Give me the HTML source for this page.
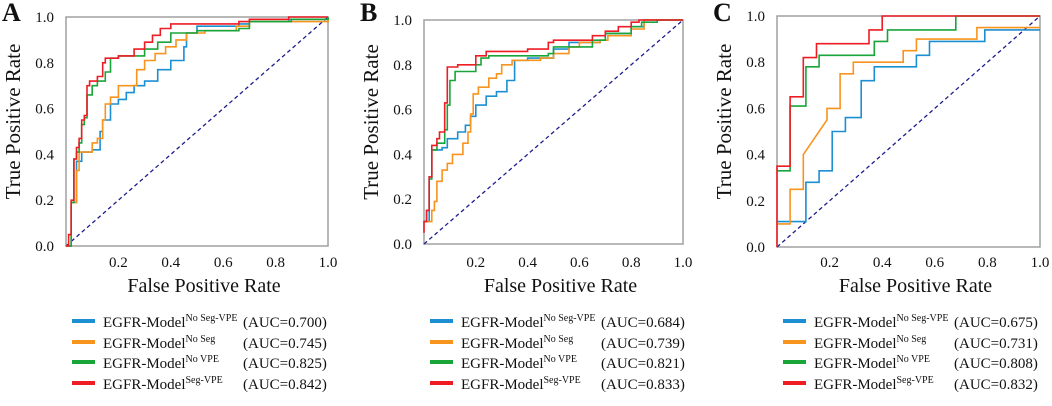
<!DOCTYPE html>
<html><head><meta charset="utf-8"><style>
body{margin:0;background:#fff;width:1052px;height:401px;overflow:hidden}
svg text{font-family:"Liberation Serif",serif;fill:#111}
</style></head><body>
<svg id="chart" width="1052" height="401" viewBox="0 0 1052 401"></svg>
<script>
const seriesNames=["No Seg-VPE","No Seg","No VPE","Seg-VPE"];
const seriesColors=["#1b8fd2","#f7941d","#1aa53a","#ee1c25"];
const xTicks=[0.2,0.4,0.6,0.8,1.0];
const yTicks=[0,0.2,0.4,0.6,0.8,1.0];
const panelLabels=["A","B","C"];
const aucA=["0.700","0.745","0.825","0.842"];
const aucB=["0.684","0.739","0.821","0.833"];
const aucC=["0.675","0.731","0.808","0.832"];
const aBlue=[[0,0],[0.02,0.19],[0.04,0.37],[0.06,0.41],[0.1,0.42],[0.13,0.5],[0.14,0.55],[0.17,0.62],[0.2,0.64],[0.23,0.67],[0.26,0.7],[0.3,0.72],[0.35,0.77],[0.4,0.81],[0.45,0.87],[0.46,0.93],[0.5,0.96],[0.66,0.97],[0.7,0.98],[0.85,0.99],[1,1]];
const aOrange=[[0,0],[0.02,0.19],[0.04,0.33],[0.05,0.41],[0.08,0.41],[0.1,0.45],[0.12,0.47],[0.14,0.55],[0.15,0.62],[0.17,0.65],[0.2,0.7],[0.26,0.7],[0.27,0.77],[0.3,0.81],[0.34,0.84],[0.38,0.87],[0.42,0.9],[0.46,0.93],[0.53,0.94],[0.65,0.96],[0.7,0.98],[1,1]];
const aGreen=[[0,0],[0.02,0.19],[0.03,0.38],[0.04,0.41],[0.05,0.45],[0.06,0.53],[0.07,0.56],[0.08,0.66],[0.1,0.7],[0.12,0.72],[0.15,0.76],[0.17,0.82],[0.2,0.83],[0.3,0.86],[0.35,0.89],[0.4,0.93],[0.5,0.94],[0.66,0.95],[0.7,0.98],[0.86,0.99],[1,1]];
const aRed=[[0,0],[0.01,0.05],[0.02,0.2],[0.03,0.38],[0.04,0.43],[0.05,0.47],[0.06,0.55],[0.07,0.57],[0.08,0.7],[0.09,0.72],[0.12,0.74],[0.14,0.8],[0.15,0.82],[0.2,0.83],[0.26,0.86],[0.3,0.89],[0.33,0.92],[0.36,0.95],[0.4,0.97],[0.66,0.98],[0.7,0.99],[0.85,1],[1,1]];
const bBlue=[[0,0.1],[0.02,0.3],[0.03,0.42],[0.07,0.43],[0.09,0.47],[0.13,0.5],[0.16,0.53],[0.18,0.57],[0.2,0.62],[0.24,0.66],[0.28,0.68],[0.32,0.73],[0.35,0.82],[0.4,0.83],[0.5,0.87],[0.56,0.9],[0.68,0.91],[0.7,0.94],[0.8,0.97],[0.85,1],[1,1]];
const bOrange=[[0,0.1],[0.02,0.1],[0.03,0.15],[0.04,0.19],[0.05,0.28],[0.07,0.33],[0.09,0.36],[0.11,0.4],[0.15,0.45],[0.17,0.5],[0.18,0.58],[0.19,0.67],[0.21,0.7],[0.25,0.74],[0.28,0.76],[0.3,0.8],[0.34,0.82],[0.45,0.83],[0.5,0.85],[0.56,0.88],[0.6,0.9],[0.68,0.91],[0.71,0.93],[0.8,0.96],[0.85,1],[1,1]];
const bGreen=[[0,0.1],[0.01,0.15],[0.02,0.29],[0.03,0.42],[0.05,0.45],[0.08,0.51],[0.09,0.62],[0.1,0.73],[0.12,0.77],[0.2,0.8],[0.22,0.83],[0.25,0.84],[0.48,0.85],[0.5,0.88],[0.65,0.91],[0.7,0.94],[0.8,0.97],[0.84,0.99],[0.9,1],[1,1]];
const bRed=[[0,0.05],[0,0.1],[0.01,0.15],[0.02,0.3],[0.03,0.44],[0.05,0.47],[0.06,0.5],[0.08,0.63],[0.09,0.79],[0.13,0.8],[0.2,0.84],[0.24,0.86],[0.4,0.87],[0.48,0.9],[0.5,0.91],[0.65,0.93],[0.7,0.95],[0.75,0.97],[0.8,0.99],[0.83,1],[1,1]];
const cBlue=[[0,0.11],[0.11,0.11],[0.11,0.28],[0.16,0.28],[0.16,0.33],[0.21,0.33],[0.21,0.5],[0.26,0.5],[0.26,0.56],[0.32,0.56],[0.32,0.72],[0.37,0.72],[0.37,0.78],[0.53,0.78],[0.53,0.83],[0.58,0.83],[0.58,0.89],[0.79,0.89],[0.79,0.94],[1,0.94]];
const cOrange=[[0,0.1],[0.05,0.1],[0.05,0.25],[0.1,0.25],[0.1,0.4],[0.19,0.55],[0.19,0.6],[0.24,0.6],[0.24,0.75],[0.29,0.75],[0.29,0.8],[0.48,0.8],[0.48,0.85],[0.53,0.85],[0.53,0.9],[0.76,0.9],[0.76,0.95],[1,0.95]];
const cGreen=[[0,0.33],[0.05,0.33],[0.05,0.61],[0.11,0.61],[0.11,0.78],[0.16,0.78],[0.16,0.83],[0.37,0.83],[0.37,0.89],[0.42,0.89],[0.42,0.94],[0.68,0.94],[0.68,1],[1,1]];
const cRed=[[0,0],[0,0.35],[0.05,0.35],[0.05,0.65],[0.1,0.65],[0.1,0.82],[0.15,0.82],[0.15,0.88],[0.35,0.88],[0.35,0.94],[0.4,0.94],[0.4,1],[1,1]];

const NS="http://www.w3.org/2000/svg";
const svg=document.getElementById('chart');
function mk(tag,attrs,parent,text){const e=document.createElementNS(NS,tag);for(const k in attrs)e.setAttribute(k,attrs[k]);if(text!==undefined)e.textContent=text;(parent||svg).appendChild(e);return e;}
function stepify(pts){const o=[pts[0]];for(let i=1;i<pts.length;i++){o.push([pts[i][0],pts[i-1][1]]);o.push(pts[i]);}return o;}
const panels=[
 {x0:66,x1:328,y0:246,y1:17,off:0,auc:aucA,data:[aBlue,aOrange,aGreen,aRed],step:true},
 {x0:424,x1:683,y0:244,y1:20,off:358,auc:aucB,data:[bBlue,bOrange,bGreen,bRed],step:true},
 {x0:777,x1:1040,y0:247,y1:16,off:711,auc:aucC,data:[cBlue,cOrange,cGreen,cRed],step:false}
];
panels.forEach((p,pi)=>{
 const g=mk('g',{});
 
 
 const sx=v=>p.x0+v*(p.x1-p.x0), sy=v=>p.y0-v*(p.y0-p.y1);
 const frame=mk('rect',{x:p.x0,y:p.y1,width:p.x1-p.x0,height:p.y0-p.y1,fill:'none',stroke:'#a0a0a0','stroke-width':1.5},g);
 
 
 const lab=mk('text',{x:p.off+2,y:21,'font-size':26,'font-weight':'bold'},g,panelLabels[pi]);
 
 
 yTicks.forEach(t=>{const e=mk('text',{x:p.x0-12,y:sy(t)+5,'font-size':15,'text-anchor':'end'},g,t.toFixed(1));
  
  });
 xTicks.forEach(t=>{const e=mk('text',{x:sx(t),y:267,'font-size':15,'text-anchor':'middle'},g,t.toFixed(1));
  
  });
 const xt=mk('text',{x:(p.x0+p.x1)/2+7,y:292,'font-size':20,'text-anchor':'middle'},g,'False Positive Rate');
 
 
 const ycx=p.off+20, ycy=(p.y0+p.y1)/2-10;
 const yt=mk('text',{x:ycx,y:ycy,'font-size':21,'text-anchor':'middle',transform:`rotate(-90 ${ycx} ${ycy})`},g,'True Positive Rate');
 
 
 const diag=mk('line',{x1:sx(0),y1:sy(0),x2:sx(1),y2:sy(1),stroke:'#1c1c8f','stroke-width':1.3,'stroke-dasharray':'4,3'},g);
 
 
 p.data.forEach((d,si)=>{
  const pts=(p.step?stepify(d):d).map(q=>sx(q[0]).toFixed(1)+','+sy(q[1]).toFixed(1)).join(' ');
  const l=mk('polyline',{points:pts,fill:'none',stroke:seriesColors[si],'stroke-width':1.6},g);
  
  
 });
 const rows=[321,342,362,383];
 seriesNames.forEach((n,si)=>{
  const lg=mk('g',{},g);
  
  
  const lx=p.off+72;
  mk('line',{x1:lx,y1:rows[si],x2:lx+23,y2:rows[si],stroke:seriesColors[si],'stroke-width':4},lg);
  const t=mk('text',{x:lx+31,y:rows[si]+6,'font-size':15},lg);
  mk('tspan',{},t,'EGFR-Model');
  mk('tspan',{dy:-6,'font-size':10},t,n);
  mk('text',{x:lx+171,y:rows[si]+6,'font-size':15},lg,'(AUC='+p.auc[si]+')');
 });
});
</script>
</body></html>
